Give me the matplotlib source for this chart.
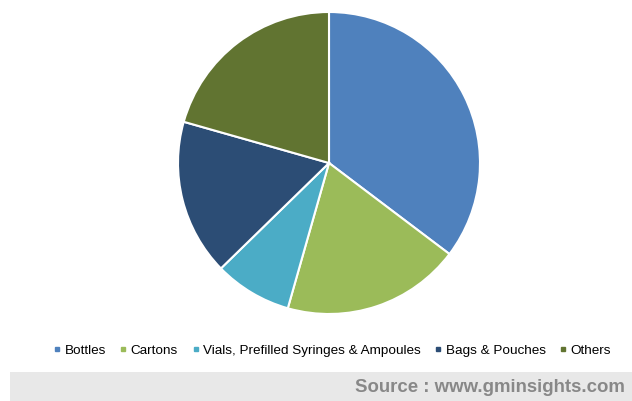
import matplotlib.pyplot as plt
from matplotlib.lines import Line2D
from matplotlib.patches import Rectangle

plt.rcParams['font.family'] = ['Liberation Sans', 'DejaVu Sans']

labels = ['Bottles', 'Cartons', 'Vials, Prefilled Syringes & Ampoules', 'Bags & Pouches', 'Others']
shares = [35.3, 19.1, 8.3, 16.7, 20.6]
colors = ['#4F81BD', '#9BBB59', '#4BACC6', '#2C4D75', '#617431']

fig = plt.figure(figsize=(6.32, 4.01), dpi=100)

# pie: centre (329,163) px, radius 151 px
cx, cy, r = 329, 163, 151
W, H = 632, 401
ax = fig.add_axes([(cx - r) / W, (H - cy - r) / H, 2 * r / W, 2 * r / H])
ax.pie(shares, colors=colors, startangle=90, counterclock=False, radius=1,
       wedgeprops=dict(edgecolor='white', linewidth=1.5))
ax.set_xlim(-1, 1)
ax.set_ylim(-1, 1)
ax.set_aspect('equal')
ax.axis('off')

handles = [Line2D([], [], linestyle='none', marker='s', markersize=3.5,
                  markerfacecolor=c, markeredgecolor=c) for c in colors]
fig.legend(handles, labels, loc='center', bbox_to_anchor=(0.526, 1 - 350.5 / H),
           ncol=5, frameon=False, fontsize=9.7, handlelength=0.5,
           handletextpad=0.3, columnspacing=1.05, borderaxespad=0)

# source band
fig.patches.append(Rectangle((10 / W, 0), 1 - 10 / W, 29 / H, transform=fig.transFigure,
                             facecolor='#E8E8E8', edgecolor='none'))
fig.text(625 / W, 1 - 388 / H, 'Source : www.gminsights.com', ha='right', va='center',
         fontsize=13.4, fontweight='bold', color='#888888')

fig.savefig('out.png', dpi=100)
